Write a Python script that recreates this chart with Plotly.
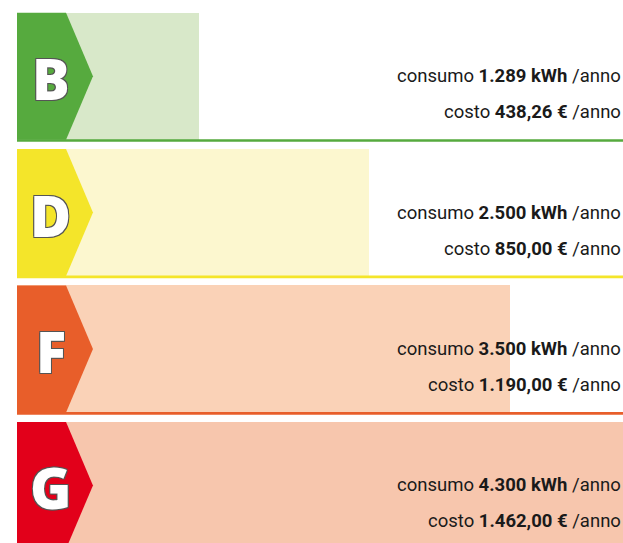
import plotly.graph_objects as go

classes = ["B", "D", "F", "G"]
consumo = [1289, 2500, 3500, 4300]
consumo_lbl = ["1.289", "2.500", "3.500", "4.300"]
costo_lbl = ["438,26", "850,00", "1.190,00", "1.462,00"]
dark = ["#56AA3E", "#F4E52A", "#E85E2A", "#E2001A"]
light = ["#D8E8C9", "#FCF7CF", "#FAD2B7", "#F7C6AD"]

BAR_W = 0.931
ARROW_FLAT = 348
ARROW_TIP = 539

ys = list(range(len(classes)))

fig = go.Figure()
fig.add_trace(go.Bar(
    x=consumo, y=ys, orientation="h", width=BAR_W,
    marker=dict(color=light, line=dict(width=0)),
    hoverinfo="skip", showlegend=False,
))

TXT_FONT = "Roboto, Liberation Sans, sans-serif"

shapes = []
annotations = []
h = BAR_W / 2
for i, c in enumerate(classes):
    y0, y1 = i - h, i + h
    path = (f"M 0 {y0} L {ARROW_FLAT} {y0} L {ARROW_TIP} {i} "
            f"L {ARROW_FLAT} {y1} L 0 {y1} Z")
    shapes.append(dict(type="path", path=path, xref="x", yref="y",
                       fillcolor=dark[i], line=dict(width=0), layer="above"))
    shapes.append(dict(type="line", xref="paper", yref="y", x0=0, x1=1,
                       y0=y1 + 0.006, y1=y1 + 0.006,
                       line=dict(color=dark[i], width=2.7), layer="above"))
    annotations.append(dict(
        x=241, y=i, xref="x", yref="y", text=c, showarrow=False,
        yshift=-2,
        font=dict(family="Open Sans, Liberation Sans, sans-serif", size=56,
                  color="white", weight=800,
                  shadow="1px 1px 0 #555, -1px -1px 0 #555, 1px -1px 0 #555, -1px 1px 0 #555"),
    ))
    annotations.append(dict(
        x=1, y=i, xref="paper", yref="y", xanchor="right", yanchor="middle",
        xshift=0, yshift=0, showarrow=False,
        text=f"consumo <b>{consumo_lbl[i]} kWh</b> /anno",
        font=dict(family=TXT_FONT, size=18.5, color="#1a1a1a"),
    ))
    annotations.append(dict(
        x=1, y=i, xref="paper", yref="y", xanchor="right", yanchor="middle",
        xshift=0, yshift=-36, showarrow=False,
        text=f"costo <b>{costo_lbl[i]} €</b> /anno",
        font=dict(family=TXT_FONT, size=18.5, color="#1a1a1a"),
    ))

fig.update_layout(
    width=623, height=543,
    margin=dict(l=17, r=0, t=0, b=0),
    paper_bgcolor="white", plot_bgcolor="white",
    bargap=0,
    xaxis=dict(range=[0, 4300], visible=False, fixedrange=True),
    yaxis=dict(range=[3.4224, -0.5586], visible=False, fixedrange=True),
    shapes=shapes, annotations=annotations,
    showlegend=False,
)

fig.write_html(
    "out.html",
    config={"displayModeBar": False},
    post_script="document.body.style.margin='0';document.body.style.overflow='hidden';",
)
